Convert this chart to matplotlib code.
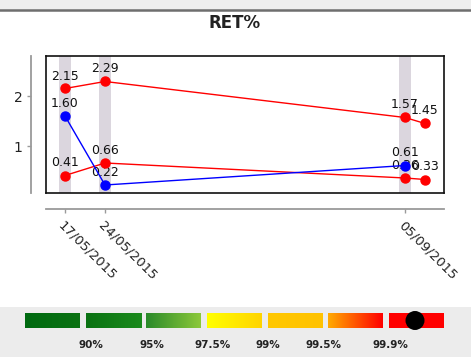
import matplotlib
matplotlib.use("Agg")
import matplotlib.pyplot as plt
import numpy as np
from matplotlib.patches import Rectangle, Circle
from matplotlib.colors import LinearSegmentedColormap

# ---------------- data ----------------
x_pos = [0, 2, 17, 18]
tick_pos = [0, 2, 17]
tick_labels = ["17/05/2015", "24/05/2015", "05/09/2015"]
band_pos = [0, 2, 17]

red_upper = [2.15, 2.29, 1.57, 1.45]
red_lower = [0.41, 0.66, 0.36, 0.33]
blue_x = [0, 2, 17]
blue_vals = [1.60, 0.22, 0.61]

y_ticks = [1, 2]

legend_labels = ["90%", "95%", "97.5%", "99%", "99.5%", "99.9%"]
legend_colors = [
    ("#006a10", "#0a7212"),
    ("#0a7212", "#1a8a1c"),
    ("#2a8a2a", "#8cc83a"),
    ("#ffff00", "#ffd400"),
    ("#ffc800", "#ffc200"),
    ("#ffaa00", "#ff0000"),
    ("#ff0000", "#ff0000"),
]

# ---------------- figure ----------------
W, H = 471, 357
fig = plt.figure(figsize=(W / 100, H / 100), dpi=100)
fig.patch.set_facecolor("white")

# top gray strip
fig.patches.append(Rectangle((0, 1 - 10 / H), 1, 10 / H, transform=fig.transFigure,
                             facecolor="#eeeeee", edgecolor="none", zorder=0))
fig.lines.append(plt.Line2D([0, 1], [1 - 10 / H, 1 - 10 / H], transform=fig.transFigure,
                            color="#6e6e6e", lw=1.8))

fig.text(235 / W, 1 - 23 / H, "RET%", ha="center", va="center",
         fontsize=12, fontweight="bold", color="#222222")

left, right = 46 / W, 444 / W
bottom, top = 1 - 193 / H, 1 - 56 / H
ax = fig.add_axes([left, bottom, right - left, top - bottom])
ax.set_xlim(-0.95, 18.95)
ax.set_ylim(0.06, 2.8)

# bands
for b in band_pos:
    ax.axvspan(b - 0.3, b + 0.3, color="#dbd6de", zorder=1, lw=0)

ax.plot(x_pos, red_upper, color="#ff0000", lw=1, marker="o", ms=6.5, zorder=3)
ax.plot(x_pos, red_lower, color="#ff0000", lw=1, marker="o", ms=6.5, zorder=3)
ax.plot(blue_x, blue_vals, color="#0000ff", lw=1, marker="o", ms=6.5, zorder=3)

for xs, ys in ((x_pos, red_upper), (x_pos, red_lower), (blue_x, blue_vals)):
    for xv, yv in zip(xs, ys):
        ax.annotate(f"{yv:.2f}", (xv, yv), xytext=(0, 9), textcoords="offset points",
                    ha="center", va="center", fontsize=9, color="#111111", zorder=2.5)

for s in ("top", "right"):
    ax.spines[s].set_visible(False)
ax.spines["left"].set_position(("outward", 11))
ax.spines["bottom"].set_position(("outward", 11.5))
ax.spines["left"].set_color("#9a9a9a")
ax.spines["bottom"].set_color("#9a9a9a")
ax.spines["left"].set_linewidth(1.3)
ax.spines["bottom"].set_linewidth(1.3)
ax.set_yticks(y_ticks)
ax.set_yticklabels([str(t) for t in y_ticks], fontsize=10)
ax.set_xticks(tick_pos)
ax.set_xticklabels(tick_labels, rotation=-45, ha="left", va="top",
                   rotation_mode="anchor", fontsize=9.5)
ax.tick_params(axis="both", colors="#9a9a9a", labelcolor="#222222", length=3, width=1)
ax.tick_params(axis="x", pad=4)
ax.tick_params(axis="y", pad=3)

frame = fig.add_axes([left, bottom, right - left, top - bottom], facecolor="none")
frame.set_xticks([])
frame.set_yticks([])
for s in frame.spines.values():
    s.set_color("#111111")
    s.set_linewidth(1.2)

# ---------------- legend strip ----------------
lg = fig.add_axes([0, 0, 1, 50 / H])
lg.set_xlim(0, W)
lg.set_ylim(0, 50)
lg.axis("off")
lg.add_patch(Rectangle((0, 0), W, 50, facecolor="#ececec", edgecolor="none"))
step, bw = 60.67, 55
for i, (c0, c1) in enumerate(legend_colors):
    x0 = 25 + i * step
    cmap = LinearSegmentedColormap.from_list(f"c{i}", [c0, c1])
    lg.imshow(np.linspace(0, 1, 64)[None, :], cmap=cmap, aspect="auto",
              extent=(x0, x0 + bw, 29, 44), zorder=2)
lg.add_patch(Circle((415, 36.5), 9.5, facecolor="black", edgecolor="none", zorder=3))
lg.set_xlim(0, W)
lg.set_ylim(0, 50)
label_x = [91, 152, 213, 268, 323, 390]
for lx, lab in zip(label_x, legend_labels):
    lg.text(lx, 12, lab, ha="center", va="center", fontsize=7.5,
            fontweight="bold", color="#222222")

fig.savefig("out.png", dpi=100)
